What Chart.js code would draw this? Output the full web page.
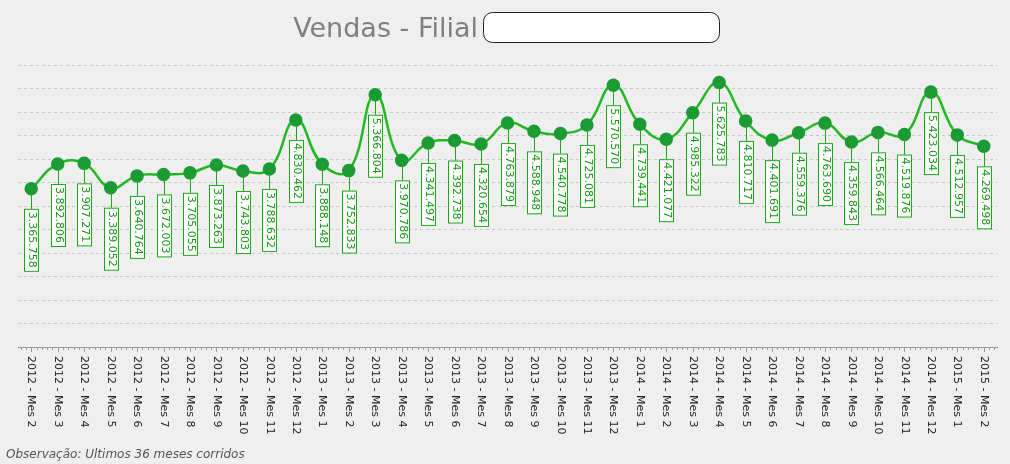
<!DOCTYPE html>
<html>
<head>
<meta charset="utf-8">
<script src="https://cdn.jsdelivr.net/npm/chart.js@4"></script>
<style>
  html, body { margin: 0; padding: 0; background: #efefef; }
  #wrap { width: 1010px; height: 464px; }
</style>
</head>
<body>
<div id="wrap"><canvas id="chart" width="1010" height="464"></canvas></div>
<script>
// data
var meses = ["2012 - Mes 2","2012 - Mes 3","2012 - Mes 4","2012 - Mes 5","2012 - Mes 6","2012 - Mes 7","2012 - Mes 8","2012 - Mes 9","2012 - Mes 10","2012 - Mes 11","2012 - Mes 12",
  "2013 - Mes 1","2013 - Mes 2","2013 - Mes 3","2013 - Mes 4","2013 - Mes 5","2013 - Mes 6","2013 - Mes 7","2013 - Mes 8","2013 - Mes 9","2013 - Mes 10","2013 - Mes 11","2013 - Mes 12",
  "2014 - Mes 1","2014 - Mes 2","2014 - Mes 3","2014 - Mes 4","2014 - Mes 5","2014 - Mes 6","2014 - Mes 7","2014 - Mes 8","2014 - Mes 9","2014 - Mes 10","2014 - Mes 11","2014 - Mes 12",
  "2015 - Mes 1","2015 - Mes 2"];
var vendas = [3365758,3892806,3907271,3389052,3640764,3672003,3705055,3873263,3743803,3788632,4830462,
  3888148,3752833,5366804,3970786,4341497,4392738,4320654,4763879,4588948,4540778,4725081,5570570,
  4739441,4421077,4985322,5625783,4810717,4401691,4559376,4763690,4359843,4566464,4519876,5423034,
  4512957,4269498];
var yMin = 0, yMax = 6000000, yStep = 500000;

function fmt(n) { return n.toString().replace(/\B(?=(\d{3})+(?!\d))/g, "."); }

var extras = {
  id: 'extras',
  afterDraw: function(chart) {
    var ctx = chart.ctx, xs = chart.scales.x, ys = chart.scales.y, area = chart.chartArea;
    ctx.save();
    // title
    ctx.font = '27px "DejaVu Sans", sans-serif';
    ctx.fillStyle = '#808080';
    ctx.textBaseline = 'alphabetic';
    ctx.textAlign = 'right';
    ctx.fillText('Vendas - Filial', 478, 37);
    ctx.beginPath();
    ctx.roundRect(483.5, 12.5, 236, 30, 9);
    ctx.fillStyle = '#ffffff'; ctx.fill();
    ctx.strokeStyle = '#222'; ctx.lineWidth = 1; ctx.stroke();

    // minor ticks on x axis
    ctx.strokeStyle = '#999';
    var step = xs.getPixelForValue(1) - xs.getPixelForValue(0);
    for (var i = 0; i < meses.length; i++) {
      var px = xs.getPixelForValue(i);
      ctx.beginPath(); ctx.moveTo(Math.round(px) + 0.5, area.bottom); ctx.lineTo(Math.round(px) + 0.5, area.bottom + 5); ctx.stroke();
      for (var k = -2; k <= 2; k++) {
        if (k === 0) continue;
        var mx = Math.round(px + k * step / 5) + 0.5;
        ctx.beginPath(); ctx.moveTo(mx, area.bottom); ctx.lineTo(mx, area.bottom + 3); ctx.stroke();
      }
    }

    // x labels, rotated clockwise
    ctx.font = '11px "DejaVu Sans", sans-serif';
    ctx.fillStyle = '#222';
    ctx.textAlign = 'left';
    ctx.textBaseline = 'middle';
    meses.forEach(function(m, i) {
      var px = xs.getPixelForValue(i);
      ctx.save();
      ctx.translate(px, area.bottom + 9);
      ctx.rotate(Math.PI / 2);
      ctx.fillText(m, 0, 0);
      ctx.restore();
    });

    // data labels
    ctx.font = '11px "DejaVu Sans", sans-serif';
    vendas.forEach(function(v, i) {
      var px = Math.round(xs.getPixelForValue(i)), py = ys.getPixelForValue(v);
      var txt = fmt(v);
      var w = ctx.measureText(txt).width + 6, h = 14;
      var top = py + 20;
      ctx.strokeStyle = '#1aa81a'; ctx.lineWidth = 1;
      ctx.beginPath(); ctx.moveTo(px + 0.5, py); ctx.lineTo(px + 0.5, top); ctx.stroke();
      ctx.fillStyle = '#ffffff';
      ctx.fillRect(px - h / 2 + 0.5, top + 0.5, h, w);
      ctx.strokeRect(px - h / 2 + 0.5, top + 0.5, h, w);
      ctx.save();
      ctx.translate(px + 1, top + 3);
      ctx.rotate(Math.PI / 2);
      ctx.fillStyle = '#119911';
      ctx.textAlign = 'left'; ctx.textBaseline = 'middle';
      ctx.fillText(txt, 0, 0);
      ctx.restore();
    });

    // footer
    ctx.font = 'italic 12px "DejaVu Sans", sans-serif';
    ctx.fillStyle = '#555';
    ctx.textAlign = 'left'; ctx.textBaseline = 'alphabetic';
    ctx.fillText('Observação: Ultimos 36 meses corridos', 6, 458);
    ctx.restore();
  }
};

new Chart(document.getElementById('chart'), {
  type: 'line',
  data: {
    labels: meses,
    datasets: [{
      label: 'Vendas',
      data: vendas,
      borderColor: '#22b822',
      borderWidth: 2.5,
      backgroundColor: '#1b9a35',
      pointBackgroundColor: '#1b9a35',
      pointBorderColor: '#1b9a35',
      pointRadius: 5.5,
      tension: 0.45,
      cubicInterpolationMode: 'default'
    }]
  },
  options: {
    responsive: false,
    animation: false,
    layout: { padding: { left: 18, right: 13, top: 65, bottom: 109 } },
    plugins: { legend: { display: false }, tooltip: { enabled: false } },
    scales: {
      x: {
        offset: true,
        ticks: { display: false },
        grid: { display: false },
        border: { display: true, color: '#999' }
      },
      y: {
        min: yMin, max: yMax,
        ticks: { display: false, stepSize: yStep },
        grid: { color: '#c8c8c8', drawTicks: false },
        border: { display: false, dash: [3, 3] }
      }
    }
  },
  plugins: [extras]
});
</script>
</body>
</html>
